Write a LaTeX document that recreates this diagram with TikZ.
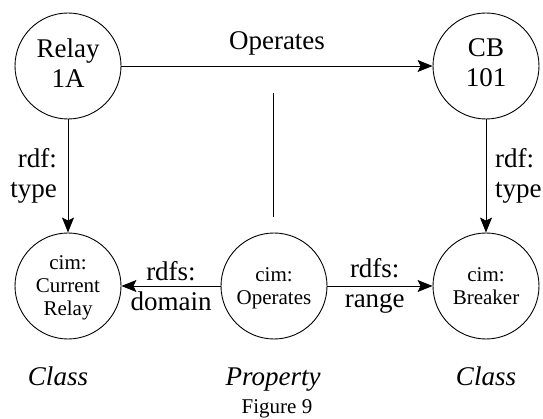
\documentclass[tikz,border=0pt]{standalone}
\usepackage{fontspec}
\setmainfont{Liberation Serif}
\usetikzlibrary{arrows.meta}

\tikzset{
  big/.style={font=\fontsize{27}{30}\selectfont},
  small/.style={font=\fontsize{21}{23}\selectfont},
  res/.style={circle, draw, line width=0.9pt, minimum size=106pt, inner sep=0pt,
              align=center, big, text depth=6pt},
  cls/.style={circle, draw, line width=0.9pt, minimum size=106pt, inner sep=0pt,
              align=center, small, text depth=0pt},
  arr/.style={line width=0.9pt, -{Stealth[length=15pt, width=12pt, inset=3pt]}},
  plain/.style={line width=0.9pt},
  lbl/.style={big, inner sep=0pt},
  kind/.style={big, inner sep=0pt, anchor=base, font=\fontsize{27}{30}\selectfont\itshape}
}

\begin{document}
\begin{tikzpicture}[x=1pt, y=-1pt]
  \useasboundingbox (0,0) rectangle (543,419);

  % instance level
  \node[res] (relay) at (68,66)  {Relay\\1A};
  \node[res] (cb)    at (486,66) {CB\\101};

  % schema level
  \node[cls] (cr) at (68,286)  {cim:\\Current\\Relay};
  \node[cls] (op) at (274,286) {cim:\\Operates};
  \node[cls] (br) at (486,286) {cim:\\Breaker};

  % instance property
  \draw[arr] (relay) -- (cb);
  \node[lbl, anchor=base] (oplbl) at (277,50) {Operates};

  % link from the property label down to its definition
  \coordinate (ptop) at (273,93);
  \coordinate (pbot) at (273,217);
  \draw[plain] (ptop) -- (pbot);

  % typing
  \draw[arr] (relay) -- (cr);
  \node[lbl, align=right, anchor=east] (t1) at (57,176) {rdf:\\type};
  \draw[arr] (cb) -- (br);
  \node[lbl, align=left, anchor=west] (t2) at (495,176) {rdf:\\type};

  % domain and range
  \draw[arr] (op) -- node[lbl, align=center, midway] (dom) {rdfs:\\domain} (cr);
  \draw[arr] (op) -- node[lbl, align=center, pos=0.45] (rng) {rdfs:\\range} (br);

  % captions
  \node[kind] (c1) at (58,385)  {Class};
  \node[kind] (c2) at (273,385) {Property};
  \node[kind] (c3) at (486,385) {Class};
  \node[inner sep=0pt, anchor=base, small] (fig) at (277,413) {Figure 9};
\end{tikzpicture}
\end{document}
